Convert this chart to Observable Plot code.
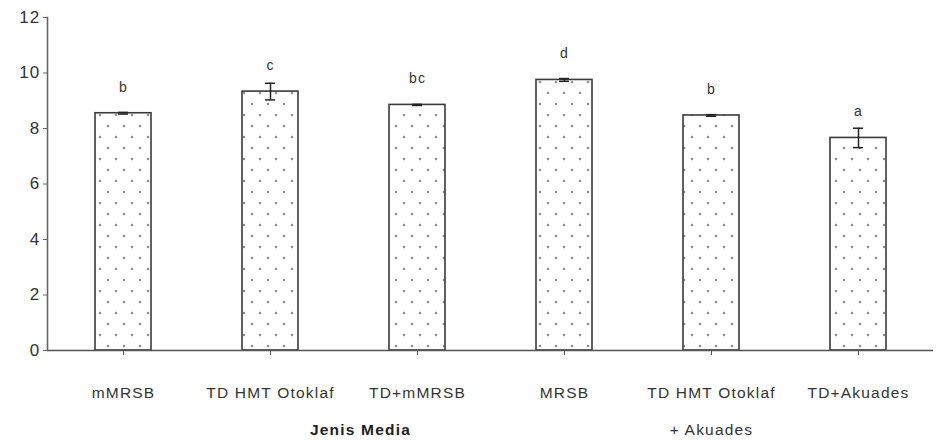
<!DOCTYPE html>
<html><head><meta charset="utf-8">
<script src="https://cdn.jsdelivr.net/npm/d3@7"></script>
<script src="https://cdn.jsdelivr.net/npm/@observablehq/plot@0.6"></script>
<style>body{margin:0;background:#fff;font-family:"Liberation Sans",Arial,sans-serif;}
svg text{letter-spacing:1.2px;}</style>
</head><body><div id="chart"></div>
<script>
const categories = ["mMRSB", "TD HMT Otoklaf", "TD+mMRSB", "MRSB", "TD HMT Otoklaf\n+ Akuades", "TD+Akuades"];
const values = [8.55, 9.33, 8.85, 9.75, 8.47, 7.66];
const errors = [0.03, 0.3, 0.02, 0.05, 0.03, 0.35];
const letters = ["b", "c", "bc", "d", "b", "a"];
const yTicks = [0, 2, 4, 6, 8, 10, 12];
const xTitle = "Jenis Media";

const data = categories.map((c, i) => ({
  cat: c, line1: c.split("\n")[0], line2: c.split("\n")[1] || "",
  v: values[i], e: errors[i], lo: values[i] - errors[i], hi: values[i] + errors[i], l: letters[i]
}));

const plot = Plot.plot({
  width: 940, height: 444,
  marginTop: 17, marginBottom: 94, marginLeft: 47, marginRight: 7,
  style: {fontFamily: "Liberation Sans, Arial, sans-serif", color: "#333", background: "#fff"},
  x: {domain: categories, paddingInner: 0.62, paddingOuter: 0.31, axis: null},
  y: {domain: [0, 12], ticks: yTicks, axis: null},
  marks: [
    Plot.barY(data, {x: "cat", y: "v", fill: "url(#dots)", stroke: "#3a3a3a", strokeWidth: 1.6}),
    Plot.ruleX(data, {x: "cat", y1: "lo", y2: "hi", stroke: "#222", strokeWidth: 1.5}),
    Plot.tickY(data, {x: "cat", y: "lo", stroke: "#222", strokeWidth: 1.5, insetLeft: 23, insetRight: 23}),
    Plot.tickY(data, {x: "cat", y: "hi", stroke: "#222", strokeWidth: 1.5, insetLeft: 23, insetRight: 23}),
    Plot.text(data, {x: "cat", y: "v", text: "l", dy: -26, fontSize: 14, fill: "#333"}),
    Plot.ruleY([0], {stroke: "#555", strokeWidth: 1.6}),
    Plot.axisY({ticks: yTicks, tickSize: 4, tickPadding: 3, fontSize: 17, stroke: "#666", fill: "#333", label: null}),
    Plot.frame({anchor: "left", stroke: "#666", strokeWidth: 1.6}),
    Plot.axisX({tickSize: 5, tickFormat: () => "", stroke: "#555", label: null}),
    Plot.text(data, {x: "cat", text: "line1", frameAnchor: "bottom", dy: 47, fontSize: 15.5, fill: "#333"}),
    Plot.text(data, {x: "cat", text: "line2", frameAnchor: "bottom", dy: 84, fontSize: 15.5, fill: "#333"}),
    Plot.text([xTitle], {x: () => categories[2], text: d => d, frameAnchor: "bottom", dx: -57, dy: 84, fontSize: 15.5, fontWeight: "bold", fill: "#222"})
  ]
});

const svg = d3.select(plot);
const defs = svg.insert("defs", ":first-child");
const pat = defs.append("pattern").attr("id", "dots").attr("patternUnits", "userSpaceOnUse")
  .attr("width", 16).attr("height", 22);
pat.append("rect").attr("width", 16).attr("height", 22).attr("fill", "#fff");
[[4, 5], [12, 16]].forEach(([cx, cy]) => {
  pat.append("circle").attr("cx", cx).attr("cy", cy).attr("r", 1.3).attr("fill", "#909090");
});
document.getElementById("chart").appendChild(plot);
</script></body></html>
